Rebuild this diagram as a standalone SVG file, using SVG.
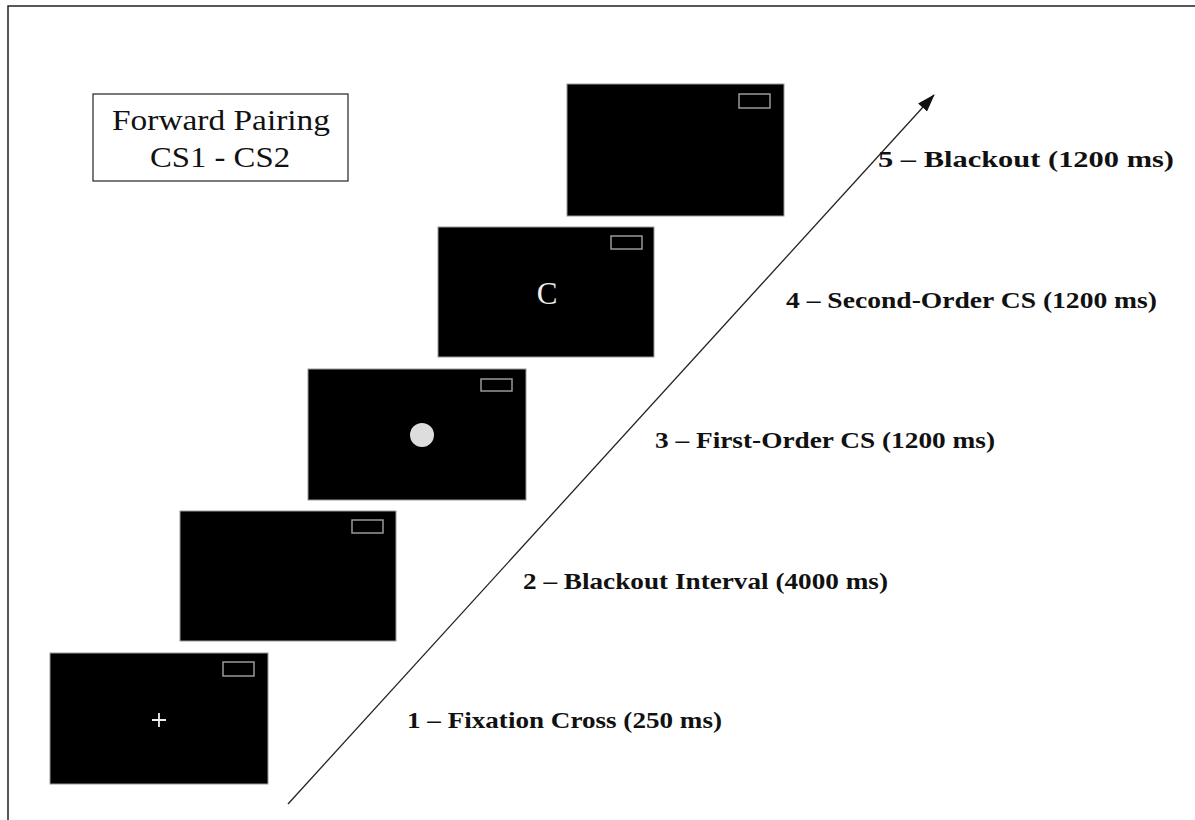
<svg xmlns="http://www.w3.org/2000/svg" width="1195" height="820" viewBox="0 0 1195 820">
<style>
.screen{fill:#000;stroke:#999;stroke-width:1}
.mini{fill:none;stroke:#999;stroke-width:1.5}
.lbl{font-family:"Liberation Serif",serif;font-weight:bold;font-size:23px;fill:#111}
.title{font-family:"Liberation Serif",serif;font-size:30px;fill:#111;text-anchor:middle}
.stim{font-family:"Liberation Serif",serif;font-size:31px;fill:#eee;text-anchor:middle}
</style>
<defs>
<marker id="ah" markerWidth="18" markerHeight="12" refX="17" refY="6" orient="auto" markerUnits="userSpaceOnUse">
<path d="M0,0 L18,6 L0,12 Z" fill="#111"/>
</marker>
</defs>
<rect x="0" y="0" width="1195" height="820" fill="#fff"/>
<rect x="8" y="6" width="1200" height="830" fill="none" stroke="#222" stroke-width="1.5"/>
<g id="title">
<rect x="93" y="94" width="255" height="87" fill="#fff" stroke="#222" stroke-width="1.2"/>
<text class="title" x="221" y="130" textLength="218" lengthAdjust="spacingAndGlyphs">Forward Pairing</text>
<text class="title" x="220" y="167" textLength="140" lengthAdjust="spacingAndGlyphs">CS1 - CS2</text>
</g>
<g id="connectors">
<line x1="288" y1="804" x2="934" y2="95" stroke="#222" stroke-width="1.3" marker-end="url(#ah)"/>
</g>
<g id="screen1">
<rect class="screen" x="50" y="653" width="218" height="131"/>
<rect class="mini" x="223" y="662" width="31" height="14"/>
<path d="M152,720 H166 M159,713 V727" stroke="#eee" stroke-width="1.8"/>
</g>
<g id="screen2">
<rect class="screen" x="180" y="511" width="216" height="130"/>
<rect class="mini" x="352" y="520" width="31" height="13"/>
</g>
<g id="screen3">
<rect class="screen" x="308" y="369" width="218" height="131"/>
<rect class="mini" x="481" y="379" width="31" height="12"/>
<circle cx="422" cy="435" r="12" fill="#ddd"/>
</g>
<g id="screen4">
<rect class="screen" x="438" y="227" width="216" height="130"/>
<rect class="mini" x="611" y="236" width="31" height="13"/>
<text class="stim" x="547" y="304">C</text>
</g>
<g id="screen5">
<rect class="screen" x="567" y="84" width="217" height="132"/>
<rect class="mini" x="739" y="94" width="31" height="14"/>
</g>
<g id="labels">
<text class="lbl" x="878" y="167" textLength="296" lengthAdjust="spacingAndGlyphs">5 – Blackout (1200 ms)</text>
<text class="lbl" x="786" y="308" textLength="371" lengthAdjust="spacingAndGlyphs">4 – Second-Order CS (1200 ms)</text>
<text class="lbl" x="655" y="448" textLength="340" lengthAdjust="spacingAndGlyphs">3 – First-Order CS (1200 ms)</text>
<text class="lbl" x="523" y="589" textLength="365" lengthAdjust="spacingAndGlyphs">2 – Blackout Interval (4000 ms)</text>
<text class="lbl" x="407" y="728" textLength="315" lengthAdjust="spacingAndGlyphs">1 – Fixation Cross (250 ms)</text>
</g>
</svg>
